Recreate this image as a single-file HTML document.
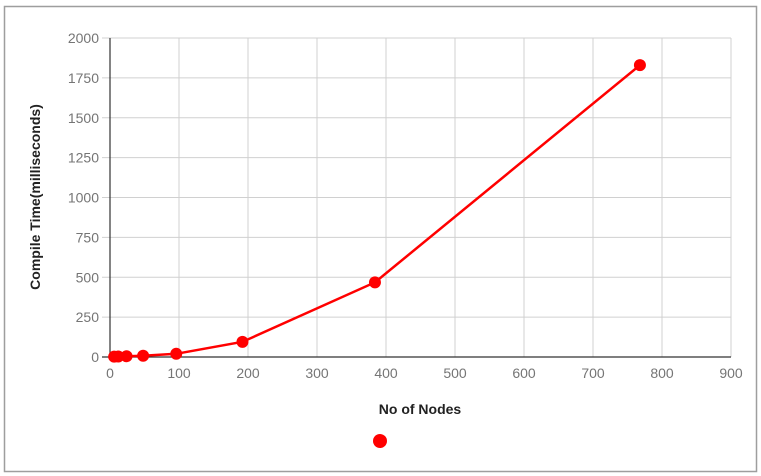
<!DOCTYPE html>
<html><head><meta charset="utf-8"><style>
html,body{margin:0;padding:0;background:#fff;}
svg{display:block;font-family:"Liberation Sans",sans-serif;}
</style></head><body>
<svg id="chart" width="761" height="476" xmlns="http://www.w3.org/2000/svg">
<rect x="4.5" y="6.5" width="752" height="465" fill="#fff" stroke="#9e9e9e" stroke-width="1.5"/>
<g id="grid"></g>
<g id="axes"></g>
<g id="series"></g>
<text x="420" y="414" text-anchor="middle" font-size="14" font-weight="bold" fill="#222">No of Nodes</text>
<text transform="translate(40,197) rotate(-90)" text-anchor="middle" font-size="14" font-weight="bold" fill="#222">Compile Time(milliseconds)</text>
<circle cx="380" cy="441" r="7" fill="#ff0000"/>
</svg>
<script>
const xValues=[6,12,24,48,96,192,384,768];
const yValues=[2,3,5,8,20,95,468,1830];
const xTicks=[0,100,200,300,400,500,600,700,800,900];
const yTicks=[0,250,500,750,1000,1250,1500,1750,2000];
const L=110,R=731,T=38,B=357;
const xs=v=>L+(v-0)/(900-0)*(R-L);
const ys=v=>B-(v-0)/(2000-0)*(B-T);
const NS="http://www.w3.org/2000/svg";
function mk(tag,attrs,parent){const e=document.createElementNS(NS,tag);for(const k in attrs)e.setAttribute(k,attrs[k]);document.getElementById(parent).appendChild(e);return e;}
xTicks.forEach(t=>{
  const g=mk('line',{x1:xs(t),x2:xs(t),y1:T,y2:B,stroke:'#d0d0d0','stroke-width':1},'grid');
  
  
  const tx=mk('text',{x:xs(t),y:B+21,'text-anchor':'middle','font-size':14,fill:'#757575'},'axes');
  tx.textContent=t;
  
  
});
yTicks.forEach(t=>{
  const g=mk('line',{x1:L-8,x2:R,y1:ys(t),y2:ys(t),stroke:'#d0d0d0','stroke-width':1},'grid');
  
  
  const tx=mk('text',{x:L-11,y:ys(t)+5,'text-anchor':'end','font-size':14,fill:'#757575'},'axes');
  tx.textContent=t;
  
  
});
const ya=mk('line',{x1:L,x2:L,y1:T,y2:B,stroke:'#333','stroke-width':1.2},'axes');


const xa=mk('line',{x1:L-8,x2:R,y1:B,y2:B,stroke:'#333','stroke-width':1.2},'axes');


const pts=xValues.map((x,i)=>xs(x)+','+ys(yValues[i])).join(' ');
const pl=mk('polyline',{points:pts,fill:'none',stroke:'#ff0000','stroke-width':2.5},'series');


xValues.forEach((x,i)=>{
  const c=mk('circle',{cx:xs(x),cy:ys(yValues[i]),r:6,fill:'#ff0000'},'series');
  
  
});
</script>
</body></html>
